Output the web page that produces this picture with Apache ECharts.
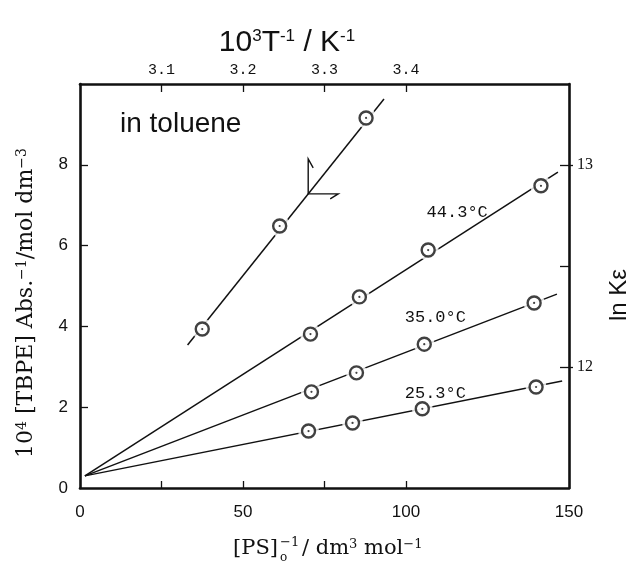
<!DOCTYPE html>
<html>
<head>
<meta charset="utf-8">
<script src="https://cdn.jsdelivr.net/npm/echarts@6/dist/echarts.min.js"></script>
<style>
  html, body { margin: 0; padding: 0; background: #fff; }
  #chart { width: 630px; height: 565px; }
</style>
</head>
<body>
<div id="chart"></div>
<script>
// ---- Data: 10^4[TBPE]/Abs versus 1/[PS]0 at three temperatures ----
const ps443  = [70.7, 85.7, 106.8, 141.4];
const abs443 = [3.81, 4.73, 5.89, 7.48];
const ps350  = [71.0, 84.8, 105.6, 139.3];
const abs350 = [2.38, 2.85, 3.56, 4.58];
const ps253  = [70.1, 83.6, 105.0, 139.9];
const abs253 = [1.41, 1.61, 1.96, 2.50];

// least-squares lines, given by their two end points [x0, x1], [y0, y1]
const fit443X = [1.5, 146.6], fit443Y = [0.30, 7.82];
const fit350X = [1.5, 146.3], fit350Y = [0.30, 4.80];
const fit253X = [1.5, 147.9], fit253Y = [0.30, 2.65];

// ---- Data: ln K-epsilon versus 10^3/T (upper / right axes) ----
const invT = [3.150, 3.245, 3.351];
const lnKe = [12.187, 12.697, 13.232];
const fitInvT = [3.132, 3.373], fitLnKe = [12.108, 13.326];

const tempNames = ['44.3°C', '35.0°C', '25.3°C'];

// ---- Axis ticks and labels ----
const xLabels = [0, 50, 100, 150];
const xTicks = [25, 50, 75, 100];
const yLabels = [0, 2, 4, 6, 8];
const yTicks = [2, 4, 6, 8];
const invTLabels = [3.1, 3.2, 3.3, 3.4];
const lnKeLabels = [12, 13];
const lnKeTicks = [12, 12.5, 13];

const pairs = (xs, ys) => xs.map((x, i) => [x, ys[i]]);

const INK = '#111';
const frame = { show: true, lineStyle: { color: INK, width: 2.6 } };

function fitLine(xs, ys, xi, yi) {
  return {
    type: 'line', data: pairs(xs, ys), xAxisIndex: xi, yAxisIndex: yi,
    symbol: 'none', silent: true, z: 2,
    lineStyle: { color: INK, width: 1.5 }
  };
}
function markers(xs, ys, xi, yi) {
  const d = pairs(xs, ys);
  return [
    // white halo to open a small gap in the line around each circle
    { type: 'scatter', data: d, xAxisIndex: xi, yAxisIndex: yi, symbol: 'circle',
      symbolSize: 21, itemStyle: { color: '#fff' }, silent: true, z: 3 },
    { type: 'scatter', data: d, xAxisIndex: xi, yAxisIndex: yi, symbol: 'circle',
      symbolSize: 13, itemStyle: { color: '#fff', borderColor: INK, borderWidth: 2.4 }, silent: true, z: 4 },
    { type: 'scatter', data: d, xAxisIndex: xi, yAxisIndex: yi, symbol: 'circle',
      symbolSize: 2.2, itemStyle: { color: INK }, silent: true, z: 5 }
  ];
}

const option = {
  animation: false,
  backgroundColor: '#fff',
  grid: { left: 80, right: 61, top: 84, bottom: 77, outerBoundsMode: 'none' },
  xAxis: [
    { type: 'value', position: 'bottom', min: 0, max: 150,
      axisLine: frame, splitLine: { show: false },
      axisTick: { show: true, inside: true, length: 7, customValues: xTicks,
                  lineStyle: { color: INK, width: 1.3 } },
      axisLabel: { customValues: xLabels, margin: 16, color: INK,
                   fontFamily: 'Liberation Sans', fontSize: 17 } },
    { type: 'value', position: 'top', min: 3.0, max: 3.6,
      axisLine: frame, splitLine: { show: false },
      axisTick: { show: true, inside: true, length: 8, customValues: invTLabels,
                  lineStyle: { color: INK, width: 1.3 } },
      axisLabel: { customValues: invTLabels, margin: 6, color: INK,
                   fontFamily: 'Liberation Mono', fontSize: 15,
                   formatter: v => v.toFixed(1) } }
  ],
  yAxis: [
    { type: 'value', position: 'left', min: 0, max: 10,
      axisLine: frame, splitLine: { show: false },
      axisTick: { show: true, inside: true, length: 8, customValues: yTicks,
                  lineStyle: { color: INK, width: 1.3 } },
      axisLabel: { customValues: yLabels, margin: 12, color: INK,
                   fontFamily: 'Liberation Sans', fontSize: 17 } },
    { type: 'value', position: 'right', min: 11.4, max: 13.4,
      axisLine: frame, splitLine: { show: false },
      axisTick: { show: true, inside: true, length: 9, customValues: lnKeTicks,
                  lineStyle: { color: INK, width: 1.3 } },
      axisLabel: { customValues: lnKeLabels, margin: 8, color: INK,
                   fontFamily: 'Liberation Serif', fontSize: 16 } },
    // short outward ticks at the labelled ln K-epsilon values
    { type: 'value', position: 'right', min: 11.4, max: 13.4,
      axisLine: { show: false }, splitLine: { show: false },
      axisTick: { show: true, inside: false, length: 4, customValues: lnKeLabels,
                  lineStyle: { color: INK, width: 1.3 } },
      axisLabel: { show: false } }
  ],
  series: [
    fitLine(fit443X, fit443Y, 0, 0),
    fitLine(fit350X, fit350Y, 0, 0),
    fitLine(fit253X, fit253Y, 0, 0),
    fitLine(fitInvT, fitLnKe, 1, 1),
    ...markers(ps443, abs443, 0, 0),
    ...markers(ps350, abs350, 0, 0),
    ...markers(ps253, abs253, 0, 0),
    ...markers(invT, lnKe, 1, 1)
  ]
};

const chart = echarts.init(document.getElementById('chart'), null, { renderer: 'canvas' });
chart.setOption(option);

// ---- Annotations placed in data space ----
const toPx = (xi, yi, p) => chart.convertToPixel({ xAxisIndex: xi, yAxisIndex: yi }, p);
const tempLabelAt = [[115.7, 6.83], [109, 4.21], [109, 2.35]];
const arrowAt = toPx(1, 1, [3.280, 12.856]);

const serif = 'DejaVu Serif';
const graphics = [];

tempNames.forEach((t, i) => {
  const p = toPx(0, 0, tempLabelAt[i]);
  graphics.push({ type: 'text', x: p[0], y: p[1], z: 10,
    style: { text: t, fill: INK, font: '17px "Liberation Mono"', align: 'center', verticalAlign: 'middle' } });
});

// arrow pointing to the upper and right axes used by the toluene line
graphics.push({ type: 'polyline', x: arrowAt[0], y: arrowAt[1], z: 10,
  shape: { points: [[5, -26], [0, -35], [0, 0], [30, 0], [22, 5]] },
  style: { stroke: INK, lineWidth: 1.4, fill: null } });

graphics.push({ type: 'text', left: 120, top: 110, z: 10,
  style: { text: 'in toluene', fill: INK, font: '28px "Liberation Sans"' } });

// upper axis title
graphics.push({ type: 'text', x: 287, y: 43, z: 10,
  style: { text: '10{s|3}T{s|-1} / K{s|-1}', fill: INK, font: '30px "Liberation Sans"',
           align: 'center', verticalAlign: 'middle',
           rich: { s: { fontSize: 17, fontFamily: 'Liberation Sans', verticalAlign: 'top', fill: INK } } } });

// left axis title
graphics.push({ type: 'text', x: 26, y: 303, rotation: Math.PI / 2, z: 10,
  style: { text: '10{s|4} [TBPE] Abs.{s|−1}/mol dm{s|−3}', fill: INK, font: '22px "' + serif + '"',
           align: 'center', verticalAlign: 'middle',
           rich: { s: { fontSize: 14, fontFamily: serif, verticalAlign: 'top', fill: INK } } } });

// right axis title
graphics.push({ type: 'text', x: 619, y: 295, rotation: Math.PI / 2, z: 10,
  style: { text: 'ln Kε', fill: INK, font: '24px "Liberation Sans"', align: 'center', verticalAlign: 'middle' } });

// bottom axis title: [PS] with stacked sub/superscript, then units
graphics.push({ type: 'group', x: 278, y: 549, z: 10, children: [
  { type: 'text', x: 0, y: 0, style: { text: '[PS]', fill: INK, font: '21px "' + serif + '"', align: 'right', verticalAlign: 'middle' } },
  { type: 'text', x: 2, y: -6, style: { text: '−1', fill: INK, font: '13px "' + serif + '"', align: 'left', verticalAlign: 'middle' } },
  { type: 'text', x: 2, y: 9, style: { text: 'o', fill: INK, font: '12px "' + serif + '"', align: 'left', verticalAlign: 'middle' } },
  { type: 'text', x: 24, y: 0, style: { text: '/ dm{s|3} mol{s|−1}', fill: INK, font: '21px "' + serif + '"', align: 'left', verticalAlign: 'middle',
      rich: { s: { fontSize: 13, fontFamily: serif, verticalAlign: 'top', fill: INK } } } }
] });

chart.setOption({ graphic: graphics });
</script>
</body>
</html>
